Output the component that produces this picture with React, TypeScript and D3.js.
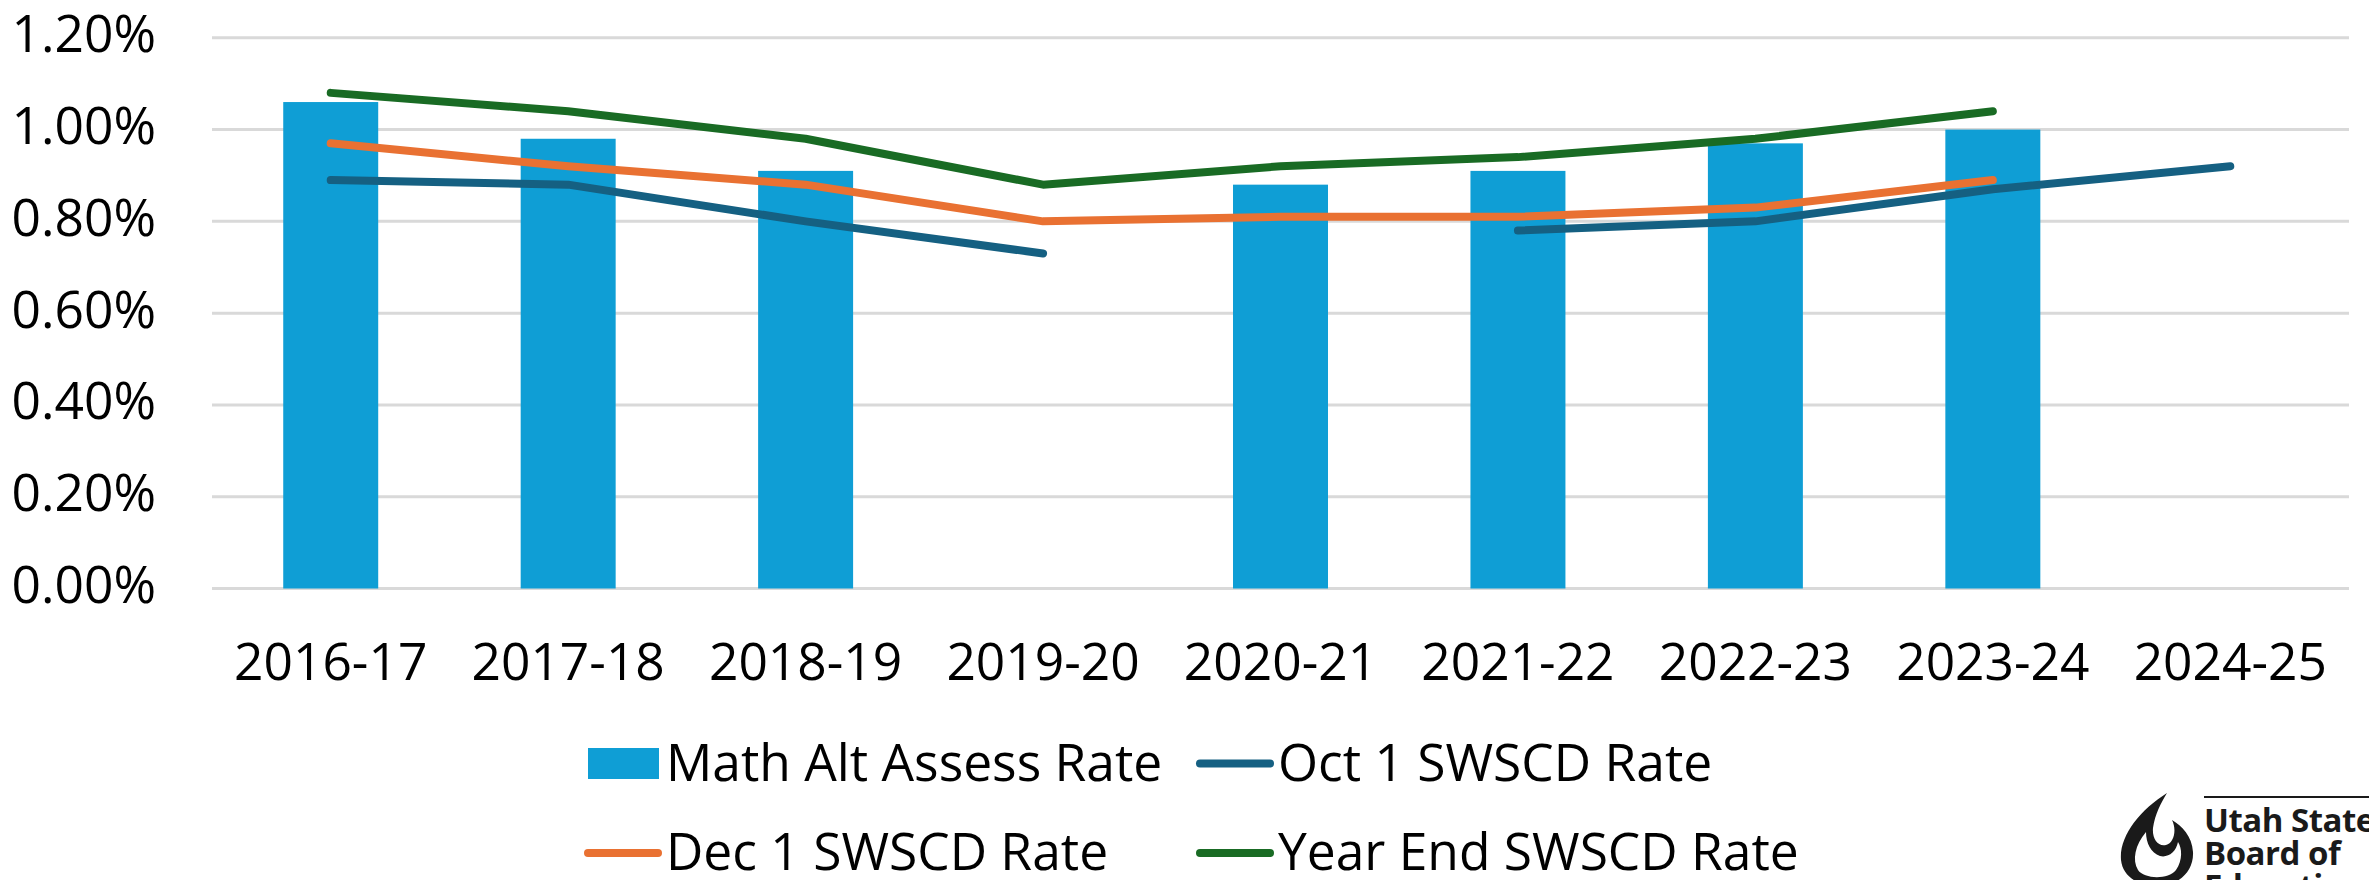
import * as d3 from "d3";
import React from "react";

// school years on the x axis
const categories = [
  "2016-17",
  "2017-18",
  "2018-19",
  "2019-20",
  "2020-21",
  "2021-22",
  "2022-23",
  "2023-24",
  "2024-25",
];

// rates in percent, null = no value that year
const mathAltRate = [1.06, 0.98, 0.91, null, 0.88, 0.91, 0.97, 1.0, null];
const oct1Rate = [0.89, 0.88, 0.8, 0.73, null, 0.78, 0.8, 0.87, 0.92];
const dec1Rate = [0.97, 0.92, 0.88, 0.8, 0.81, 0.81, 0.83, 0.89, null];
const yearEndRate = [1.08, 1.04, 0.98, 0.88, 0.92, 0.94, 0.98, 1.04, null];

const yTicks = [0, 0.2, 0.4, 0.6, 0.8, 1.0, 1.2];

const seriesNames = [
  "Math Alt Assess Rate",
  "Oct 1 SWSCD Rate",
  "Dec 1 SWSCD Rate",
  "Year End SWSCD Rate",
];

const App = () => {
  const ref = React.useRef(null);

  React.useEffect(() => {
    const width = 2369,
      height = 880;
    const font = "'Open Sans', 'Noto Sans', sans-serif";
    const fontSize = 51.5;
    const colors = {
      bar: "#0F9ED5",
      oct: "#156082",
      dec: "#E97132",
      year: "#196B24",
    };

    const svg = d3.select(ref.current);
    svg.selectAll("*").remove();
    svg.attr("width", width).attr("height", height);

    const x = d3
      .scaleBand()
      .domain(categories)
      .range([212, 2349])
      .paddingInner(0.6)
      .paddingOuter(0.3);

    const y = d3.scaleLinear().domain([0, 1.2]).range([588.5, 37.8]);

    // gridlines
    svg
      .append("g")
      .selectAll("line")
      .data(yTicks)
      .enter()
      .append("line")
      .attr("x1", 212)
      .attr("x2", 2349)
      .attr("y1", (d) => y(d))
      .attr("y2", (d) => y(d))
      .attr("stroke", "#D9D9D9")
      .attr("stroke-width", 3);

    // y tick labels
    svg
      .append("g")
      .selectAll("text")
      .data(yTicks)
      .enter()
      .append("text")
      .attr("x", 156)
      .attr("y", (d) => y(d) + 14.5)
      .attr("text-anchor", "end")
      .attr("font-family", font)
      .attr("font-size", fontSize)
      .attr("fill", "#000")
      .text((d) => d.toFixed(2) + "%");

    // x tick labels
    svg
      .append("g")
      .selectAll("text")
      .data(categories)
      .enter()
      .append("text")
      .attr("x", (d) => x(d) + x.bandwidth() / 2)
      .attr("y", 680)
      .attr("text-anchor", "middle")
      .attr("font-family", font)
      .attr("font-size", fontSize)
      .attr("fill", "#000")
      .text((d) => d);

    // bars
    const barData = categories
      .map((c, i) => [c, mathAltRate[i]])
      .filter((d) => d[1] != null);
    svg
      .append("g")
      .selectAll("rect")
      .data(barData)
      .enter()
      .append("rect")
      .attr("x", (d) => x(d[0]))
      .attr("width", x.bandwidth())
      .attr("y", (d) => y(d[1]))
      .attr("height", (d) => y(0) - y(d[1]))
      .attr("fill", colors.bar);

    // lines
    const line = d3
      .line()
      .defined((d) => d[1] != null)
      .x((d) => x(d[0]) + x.bandwidth() / 2)
      .y((d) => y(d[1]));

    const lineSeries = [
      [oct1Rate, colors.oct],
      [dec1Rate, colors.dec],
      [yearEndRate, colors.year],
    ];
    lineSeries.forEach(([vals, color]) => {
      svg
        .append("path")
        .datum(categories.map((c, i) => [c, vals[i]]))
        .attr("d", line)
        .attr("fill", "none")
        .attr("stroke", color)
        .attr("stroke-width", 8)
        .attr("stroke-linejoin", "round")
        .attr("stroke-linecap", "round");
    });

    // legend
    const legend = svg.append("g");
    const items = [
      { name: seriesNames[0], color: colors.bar, type: "rect", x: 588, row: 0 },
      { name: seriesNames[1], color: colors.oct, type: "line", x: 1200, row: 0 },
      { name: seriesNames[2], color: colors.dec, type: "line", x: 588, row: 1 },
      { name: seriesNames[3], color: colors.year, type: "line", x: 1200, row: 1 },
    ];
    items.forEach((it) => {
      const cy = it.row === 0 ? 763.5 : 853;
      if (it.type === "rect") {
        legend
          .append("rect")
          .attr("x", it.x)
          .attr("y", cy - 15.5)
          .attr("width", 71)
          .attr("height", 31)
          .attr("fill", it.color);
      } else {
        legend
          .append("line")
          .attr("x1", it.x)
          .attr("x2", it.x + 70)
          .attr("y1", cy)
          .attr("y2", cy)
          .attr("stroke", it.color)
          .attr("stroke-width", 8)
          .attr("stroke-linecap", "round");
      }
      legend
        .append("text")
        .attr("x", it.x + 78)
        .attr("y", cy + 17)
        .attr("font-family", font)
        .attr("font-size", fontSize)
        .attr("fill", "#000")
        .text(it.name);
    });

    // logo, bottom right
    const logo = svg.append("g");
    logo
      .append("path")
      .attr(
        "d",
        "M2167 793 C2140 810 2119 836 2121 860 C2123 878 2140 886 2157 886 C2178 886 2194 872 2193 852 C2192 836 2182 826 2172 820 C2177 830 2174 843 2166 845 C2158 847 2152 839 2153 828 C2155 814 2161 803 2167 793 Z"
      )
      .attr("fill", "#1a1a1a");
    logo
      .append("path")
      .attr(
        "d",
        "M2146 832 C2135 845 2132 860 2138 870 C2144 879 2168 880 2176 870 C2183 860 2182 848 2178 842 C2176 852 2168 858 2160 856 C2151 853 2146 843 2146 832 Z"
      )
      .attr("fill", "#fff");
    logo
      .append("line")
      .attr("x1", 2204)
      .attr("x2", 2369)
      .attr("y1", 797)
      .attr("y2", 797)
      .attr("stroke", "#1a1a1a")
      .attr("stroke-width", 2);
    ["Utah State", "Board of", "Education"].forEach((t, i) => {
      logo
        .append("text")
        .attr("x", 2204)
        .attr("y", 832 + i * 33)
        .attr("font-family", font)
        .attr("font-weight", 700)
        .attr("font-size", 33)
        .attr("letter-spacing", -0.5)
        .attr("fill", "#1a1a1a")
        .text(t);
    });
  }, []);

  return (
    <div style={{ position: "absolute", left: 0, top: 0 }}>
      <svg ref={ref} style={{ display: "block", background: "#fff" }} />
    </div>
  );
};

export default App;
